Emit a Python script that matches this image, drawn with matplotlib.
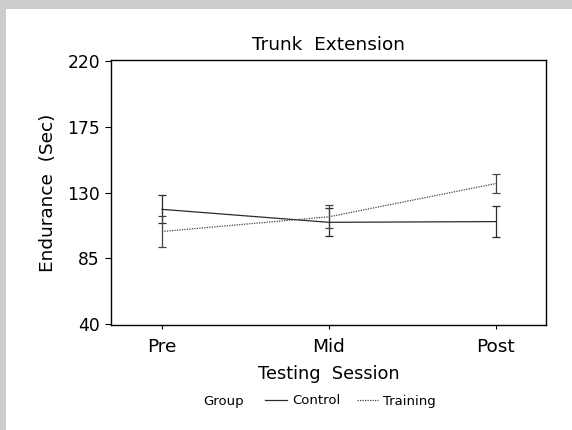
import matplotlib
matplotlib.use("Agg")
import matplotlib.pyplot as plt
from matplotlib.lines import Line2D
from matplotlib.patches import Rectangle

plt.rcParams['font.family'] = ['DejaVu Sans']

sessions = ["Pre", "Mid", "Post"]
control_mean = [118.5, 109.6, 110.1]
control_err = [9.7, 9.6, 10.9]
training_mean = [103.3, 113.4, 136.2]
training_err = [10.8, 7.9, 6.7]
yticks = [40, 85, 130, 175, 220]

W, H = 572, 430
fig = plt.figure(figsize=(W / 100, H / 100), dpi=100)
fig.patch.set_facecolor('#cccccc')
fig.add_artist(Rectangle((6 / W, 0), 1 - 6 / W, 1 - 9 / H, transform=fig.transFigure,
                         facecolor='white', edgecolor='none', zorder=0))

ax = fig.add_axes([111 / W, 1 - 325 / H, (546 - 111) / W, (325 - 60) / H])
ax.set_facecolor('white')
x = list(range(len(sessions)))

ax.errorbar(x, control_mean, yerr=control_err, color='#2a2a2a', lw=0.9,
            elinewidth=0.9, capsize=3, capthick=0.9, linestyle='-')
ax.errorbar(x, training_mean, yerr=training_err, color='#444444', lw=0.9,
            elinewidth=0.9, capsize=3, capthick=0.9, linestyle=(0, (1, 1)))

ax.set_xlim(-0.305, 2.30)
ax.set_ylim(39.2, 220.9)
ax.set_yticks(yticks)
ax.set_yticklabels([str(v) for v in yticks], fontsize=12.3)
ax.set_xticks(x)
ax.set_xticklabels(sessions, fontsize=13.3)
ax.tick_params(axis='y', length=4, width=0.8, pad=4)
ax.tick_params(axis='x', length=3, width=0.8, pad=6)
for s in ax.spines.values():
    s.set_linewidth(1.0)

ax.set_title("Trunk  Extension", fontsize=13.3, pad=7)
ax.set_xlabel("Testing  Session", fontsize=12.8, labelpad=7)
ax.set_ylabel("Endurance  (Sec)", fontsize=13.3, labelpad=7)

# legend
ly = 1 - 401 / H
fig.text(203 / W, ly, "Group", fontsize=9.5, va='center', ha='left')
fig.add_artist(Line2D([265 / W, 287 / W], [1 - 400 / H, 1 - 400 / H],
                      transform=fig.transFigure, color='#2a2a2a', lw=0.9))
fig.text(292 / W, ly, "Control", fontsize=9.5, va='center', ha='left')
fig.add_artist(Line2D([357 / W, 378 / W], [1 - 400 / H, 1 - 400 / H],
                      transform=fig.transFigure, color='#444444', lw=0.9,
                      linestyle=(0, (1, 1))))
fig.text(383 / W, ly, "Training", fontsize=9.5, va='center', ha='left')

fig.savefig("out.png", dpi=100, facecolor=fig.get_facecolor())
